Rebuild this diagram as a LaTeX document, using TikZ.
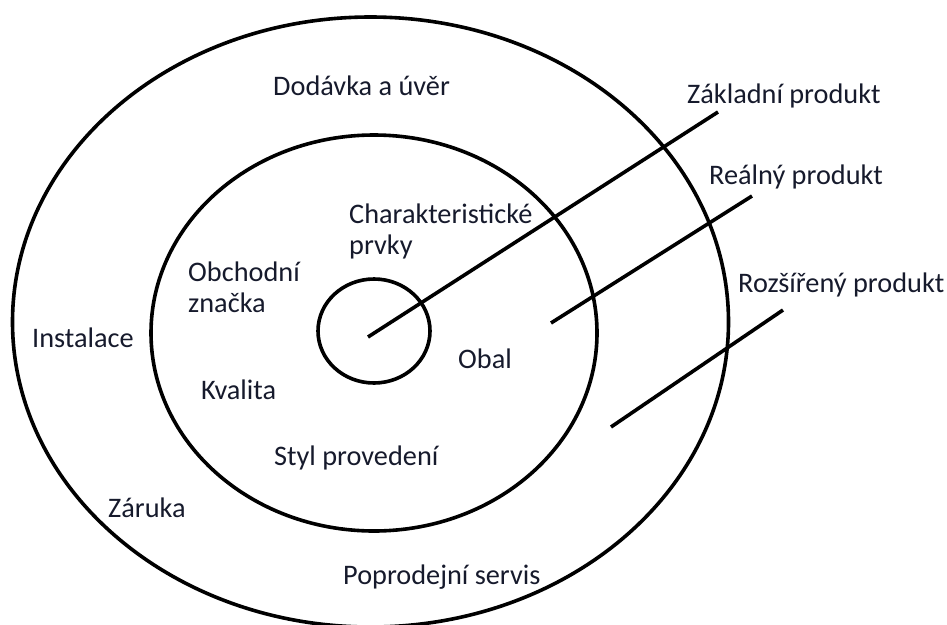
\documentclass[tikz,border=0pt]{standalone}
\usepackage{fontspec}
\setmainfont{Carlito}
\definecolor{inkc}{RGB}{22,26,44}

\begin{document}
\begin{tikzpicture}[x=1pt, y=-1pt,
  ring/.style={line width=3.6pt},
  leader/.style={line width=3.6pt},
  lbl/.style={anchor=base west, inner sep=0pt, text=inkc, align=left,
    font=\fontsize{28.3}{31}\selectfont}]

\useasboundingbox (0,0) rectangle (947,624);

% the three rings
\draw [ring] (370.5,322) ellipse [x radius=358pt, y radius=305pt];
\draw [ring] (374,333) ellipse [x radius=223pt, y radius=198pt];
\draw [ring] (374,331) ellipse [x radius=56pt, y radius=52pt];

%%%%%%%%%%%%%%%%%%%%%%%%%%%%%%%%%%%%%%%%%%%%%%%%%%%%%%%%%%%%%%%%%%%%%%%%%%%%%%%%%%%
\node [lbl] (dodavka) at (273,95) {Dodávka a úvěr};
\node [lbl] (instalace) at (32,347) {Instalace};
\node [lbl] (zaruka) at (108,517) {Záruka};
\node [lbl] (servis) at (343,584) {Poprodejní servis};

% two-line labels sit on their last line
\node [lbl] (charakt) at (349,254) {Charakteristické\\prvky};
\node [lbl] (znacka) at (188,312) {Obchodní\\značka};
\node [lbl] (kvalita) at (201,399) {Kvalita};
\node [lbl] (obal) at (458,368) {Obal};
\node [lbl] (styl) at (274,465) {Styl provedení};

\node [lbl] (zakladni) at (687,103) {Základní produkt};
\node [lbl] (realny) at (709,184) {Reálný produkt};
\node [lbl] (rozsireny) at (738,292) {Rozšířený produkt};
%%%%%%%%%%%%%%%%%%%%%%%%%%%%%%%%%%%%%%%%%%%%%%%%%%%%%%%%%%%%%%%%%%%%%%%%%%%%%%%%%%

\coordinate (zakl-in) at (368,337);
\coordinate (zakl-out) at (718,112);
\coordinate (real-in) at (551,323);
\coordinate (real-out) at (752,196);
\coordinate (rozs-in) at (611,427);
\coordinate (rozs-out) at (783,310);

\draw [leader] (zakl-in) -- (zakl-out);
\draw [leader] (real-in) -- (real-out);
\draw [leader] (rozs-in) -- (rozs-out);

\end{tikzpicture}
\end{document}
